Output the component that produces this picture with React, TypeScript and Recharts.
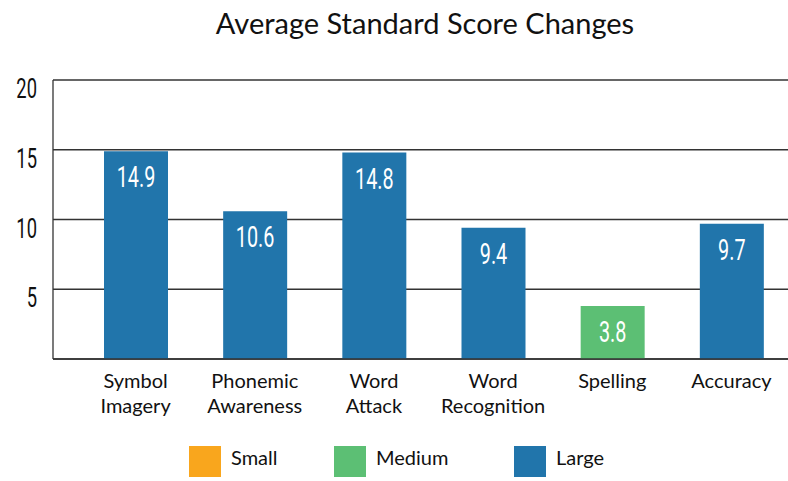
import { BarChart, Bar, XAxis, YAxis, CartesianGrid, Cell, LabelList, Legend } from 'recharts';

const categories = ['Symbol Imagery', 'Phonemic Awareness', 'Word Attack', 'Word Recognition', 'Spelling', 'Accuracy'];
const scores = [14.9, 10.6, 14.8, 9.4, 3.8, 9.7];
const effectSizes = ['Large', 'Large', 'Large', 'Large', 'Medium', 'Large'];
const yTicks = [5, 10, 15, 20];
const legendItems = ['Small', 'Medium', 'Large'];

const COLORS: Record<string, string> = {
  Small: '#f9a61d',
  Medium: '#5cbf74',
  Large: '#2175ab',
};

const data = categories.map((name, i) => ({ name, score: scores[i], effect: effectSizes[i] }));

const LABEL_FONT = 'Lato, "Open Sans", sans-serif';
const NUM_FONT = 'Roboto, sans-serif';

const CategoryTick = ({ x, y, payload }: any) => {
  const words = String(payload.value).split(' ');
  return (
    <g transform={`translate(${x},${y})`}>
      {words.map((w, i) => (
        <text key={w} x={0} y={21 + i * 25} textAnchor="middle" fill="#111" fontSize={20} fontFamily={LABEL_FONT}>
          {w}
        </text>
      ))}
    </g>
  );
};

// condensed numerals: squeeze a regular face horizontally
const ValueTick = ({ y, payload }: any) => (
  <text
    transform={`translate(${37},${y + 18}) scale(0.68,1)`}
    textAnchor="end"
    fill="#111"
    fontSize={27}
    fontFamily={NUM_FONT}
  >
    {payload.value}
  </text>
);

const BarValue = ({ x, y, width, value }: any) => (
  <text
    transform={`translate(${x + width / 2},${y + 36}) scale(0.66,1)`}
    textAnchor="middle"
    fill="#fff"
    fontSize={30}
    fontFamily={NUM_FONT}
  >
    {value}
  </text>
);

const LegendContent = () => (
  <div style={{ position: 'relative', height: 45 }}>
    {legendItems.map((item, i) => {
      const left = [189, 334, 514][i];
      return (
        <div key={item} style={{ position: 'absolute', left, top: 10, display: 'flex', alignItems: 'flex-start' }}>
          <div style={{ width: 32, height: 31, background: COLORS[item] }} />
          <span style={{ marginLeft: 10, fontFamily: LABEL_FONT, fontSize: 20, color: '#111', lineHeight: '22px' }}>{item}</span>
        </div>
      );
    })}
  </div>
);

export default function App() {
  return (
    <div style={{ position: 'fixed', left: 0, top: 0, width: 788, height: 481, background: '#fff', overflow: 'hidden' }}>
      <div
        style={{
          position: 'absolute',
          left: 0,
          width: 850,
          top: 5,
          textAlign: 'center',
          fontFamily: LABEL_FONT,
          fontSize: 29,
          color: '#111',
        }}
      >
        Average Standard Score Changes
      </div>
      <BarChart width={791} height={481} data={data} margin={{ top: 80, right: 0, left: 0, bottom: 0 }}>
        <CartesianGrid vertical={false} stroke="#333" strokeWidth={1.3} />
        <XAxis
          dataKey="name"
          height={77}
          tick={<CategoryTick />}
          tickLine={false}
          axisLine={{ stroke: '#333', strokeWidth: 1.3 }}
          padding={{ left: 23, right: 0 }}
          interval={0}
        />
        <YAxis
          width={53}
          domain={[0, 20]}
          ticks={yTicks}
          tickLine={false}
          axisLine={{ stroke: '#333', strokeWidth: 1.3 }}
          tick={<ValueTick />}
        />
        <Legend verticalAlign="bottom" height={45} content={<LegendContent />} />
        <Bar dataKey="score" barSize={64} isAnimationActive={false}>
          {data.map((d) => (
            <Cell key={d.name} fill={COLORS[d.effect]} />
          ))}
          <LabelList dataKey="score" content={<BarValue />} />
        </Bar>
      </BarChart>
    </div>
  );
}
